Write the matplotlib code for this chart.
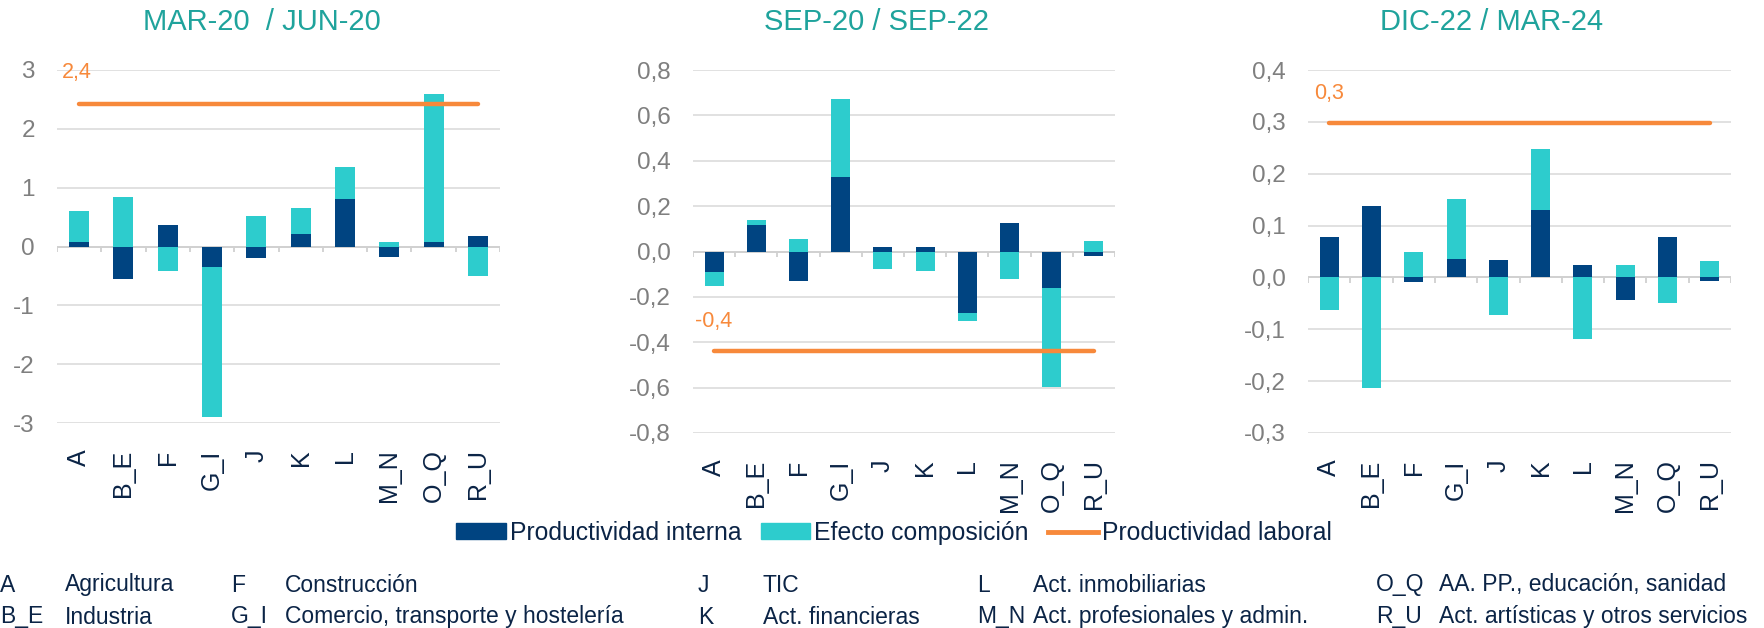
import numpy as np
import matplotlib.pyplot as plt
from matplotlib.patches import Patch
from matplotlib.lines import Line2D

plt.rcParams['font.family'] = ['Liberation Sans', 'DejaVu Sans']

sectors = ["A", "B_E", "F", "G_I", "J", "K", "L", "M_N", "O_Q", "R_U"]

titles = ["MAR-20  / JUN-20", "SEP-20 / SEP-22", "DIC-22 / MAR-24"]

# productividad interna / efecto composicion per sector
interna_1 = [0.07, -0.55, 0.37, -0.34, -0.19, 0.21, 0.80, -0.17, 0.07, 0.18]
efecto_1 = [0.53, 0.84, -0.41, -2.56, 0.51, 0.44, 0.55, 0.07, 2.52, -0.50]
laboral_1 = 2.43

interna_2 = [-0.091, 0.115, -0.13, 0.33, 0.02, 0.02, -0.27, 0.125, -0.163, -0.02]
efecto_2 = [-0.059, 0.025, 0.053, 0.34, -0.078, -0.084, -0.037, -0.12, -0.433, 0.046]
laboral_2 = -0.44

interna_3 = [0.077, 0.137, -0.009, 0.035, 0.034, 0.13, 0.024, -0.043, 0.077, -0.007]
efecto_3 = [-0.062, -0.214, 0.05, 0.117, -0.072, 0.118, -0.118, 0.024, -0.05, 0.031]
laboral_3 = 0.297

laboral_labels = ["2,4", "-0,4", "0,3"]

ylims = [(-3, 3), (-0.8, 0.8), (-0.3, 0.4)]
yticks = [np.arange(-3, 3.1, 1), np.arange(-0.8, 0.81, 0.2), np.arange(-0.3, 0.41, 0.1)]
ydec = [0, 1, 1]
label_pos = [(-0.39, 2.95), (-0.45, -0.31), (-0.36, 0.354)]

legend_codes = [["A", "B_E"], ["F", "G_I"], ["J", "K"], ["L", "M_N"], ["O_Q", "R_U"]]
legend_names = [["Agricultura", "Industria"],
                ["Construcción", "Comercio, transporte y hostelería"],
                ["TIC", "Act. financieras"],
                ["Act. inmobiliarias", "Act. profesionales y admin."],
                ["AA. PP., educación, sanidad", "Act. artísticas y otros servicios"]]

NAVY = "#004481"
AQUA = "#2DCCCD"
ORANGE = "#F7893B"
TEAL = "#1FA39C"
DARK = "#0B2446"
GREY = "#7F7F7F"

W, H = 1765, 628
fig = plt.figure(figsize=(W / 100, H / 100), dpi=100)

boxes = [(57, 500, 70, 423), (693, 1115, 70, 433), (1308, 1731, 70, 433)]
title_x = [262, 877, 1492]

series = [(interna_1, efecto_1, laboral_1), (interna_2, efecto_2, laboral_2),
          (interna_3, efecto_3, laboral_3)]

x = np.arange(len(sectors))
for i, (interna, efecto, laboral) in enumerate(series):
    l, r, t, b = boxes[i]
    ax = fig.add_axes([l / W, 1 - b / H, (r - l) / W, (b - t) / H])
    interna = np.array(interna)
    efecto = np.array(efecto)
    bottom_e = np.where(np.sign(efecto) == np.sign(interna), interna, 0)
    ax.bar(x, interna, width=0.45, color=NAVY, zorder=3)
    ax.bar(x, efecto, width=0.45, bottom=bottom_e, color=AQUA, zorder=3)
    ax.plot(x, [laboral] * len(x), color=ORANGE, lw=3.2, solid_capstyle='round', zorder=4)
    ax.text(label_pos[i][0], label_pos[i][1], laboral_labels[i], color=ORANGE,
            fontsize=15.5, va='center', ha='left', zorder=5)

    ax.set_xlim(-0.5, len(x) - 0.5)
    ax.set_ylim(*ylims[i])
    ax.set_yticks(yticks[i])
    ax.set_yticklabels([f"{v:.{ydec[i]}f}".replace(".", ",").replace("-0,0", "0,0") for v in yticks[i]])
    ax.grid(axis='y', color="#D9D9D9", lw=1.1, zorder=0)
    ax.set_axisbelow(True)
    for s in ax.spines.values():
        s.set_visible(False)
    ax.tick_params(axis='y', length=0, labelsize=17.5, labelcolor=GREY, pad=16)
    ax.set_xticks(x)
    ax.set_xticklabels(sectors, rotation=90, fontsize=18, color=DARK)
    ax.tick_params(axis='x', length=0, pad=19)

    # eje en cero con marcas entre categorias
    ax.axhline(0, color="#D0D0D0", lw=1.3, zorder=2)
    span = ylims[i][1] - ylims[i][0]
    ax.vlines(np.arange(len(x) + 1) - 0.5, -span * 0.016, 0, color="#D0D0D0", lw=1.3, zorder=2)

    fig.text(title_x[i] / W, 1 - 22 / H, titles[i], color=TEAL, fontsize=21,
             ha='center', va='center')

handles = [Patch(color=NAVY), Patch(color=AQUA), Line2D([], [], color=ORANGE, lw=3.5)]
fig.legend(handles, ["Productividad interna", "Efecto composición", "Productividad laboral"],
           loc='center', bbox_to_anchor=(894 / W, 1 - 533 / H), ncol=3, frameon=False,
           fontsize=17.8, labelcolor=DARK, handlelength=2.0, handleheight=0.6,
           handletextpad=0.15, columnspacing=0.8)

code_x = [0, 231, 698, 977, 1376]
name_x = [65, 285, 763, 1033, 1439]
row_y = [585, 617]
for c in range(len(legend_codes)):
    for rrow in range(2):
        fig.text(code_x[c] / W, 1 - row_y[rrow] / H, legend_codes[c][rrow], color=DARK,
                 fontsize=16.5, va='center', ha='left')
        fig.text(name_x[c] / W, 1 - row_y[rrow] / H, legend_names[c][rrow], color=DARK,
                 fontsize=16.5, va='center', ha='left')

fig.savefig("out.png", dpi=100)
